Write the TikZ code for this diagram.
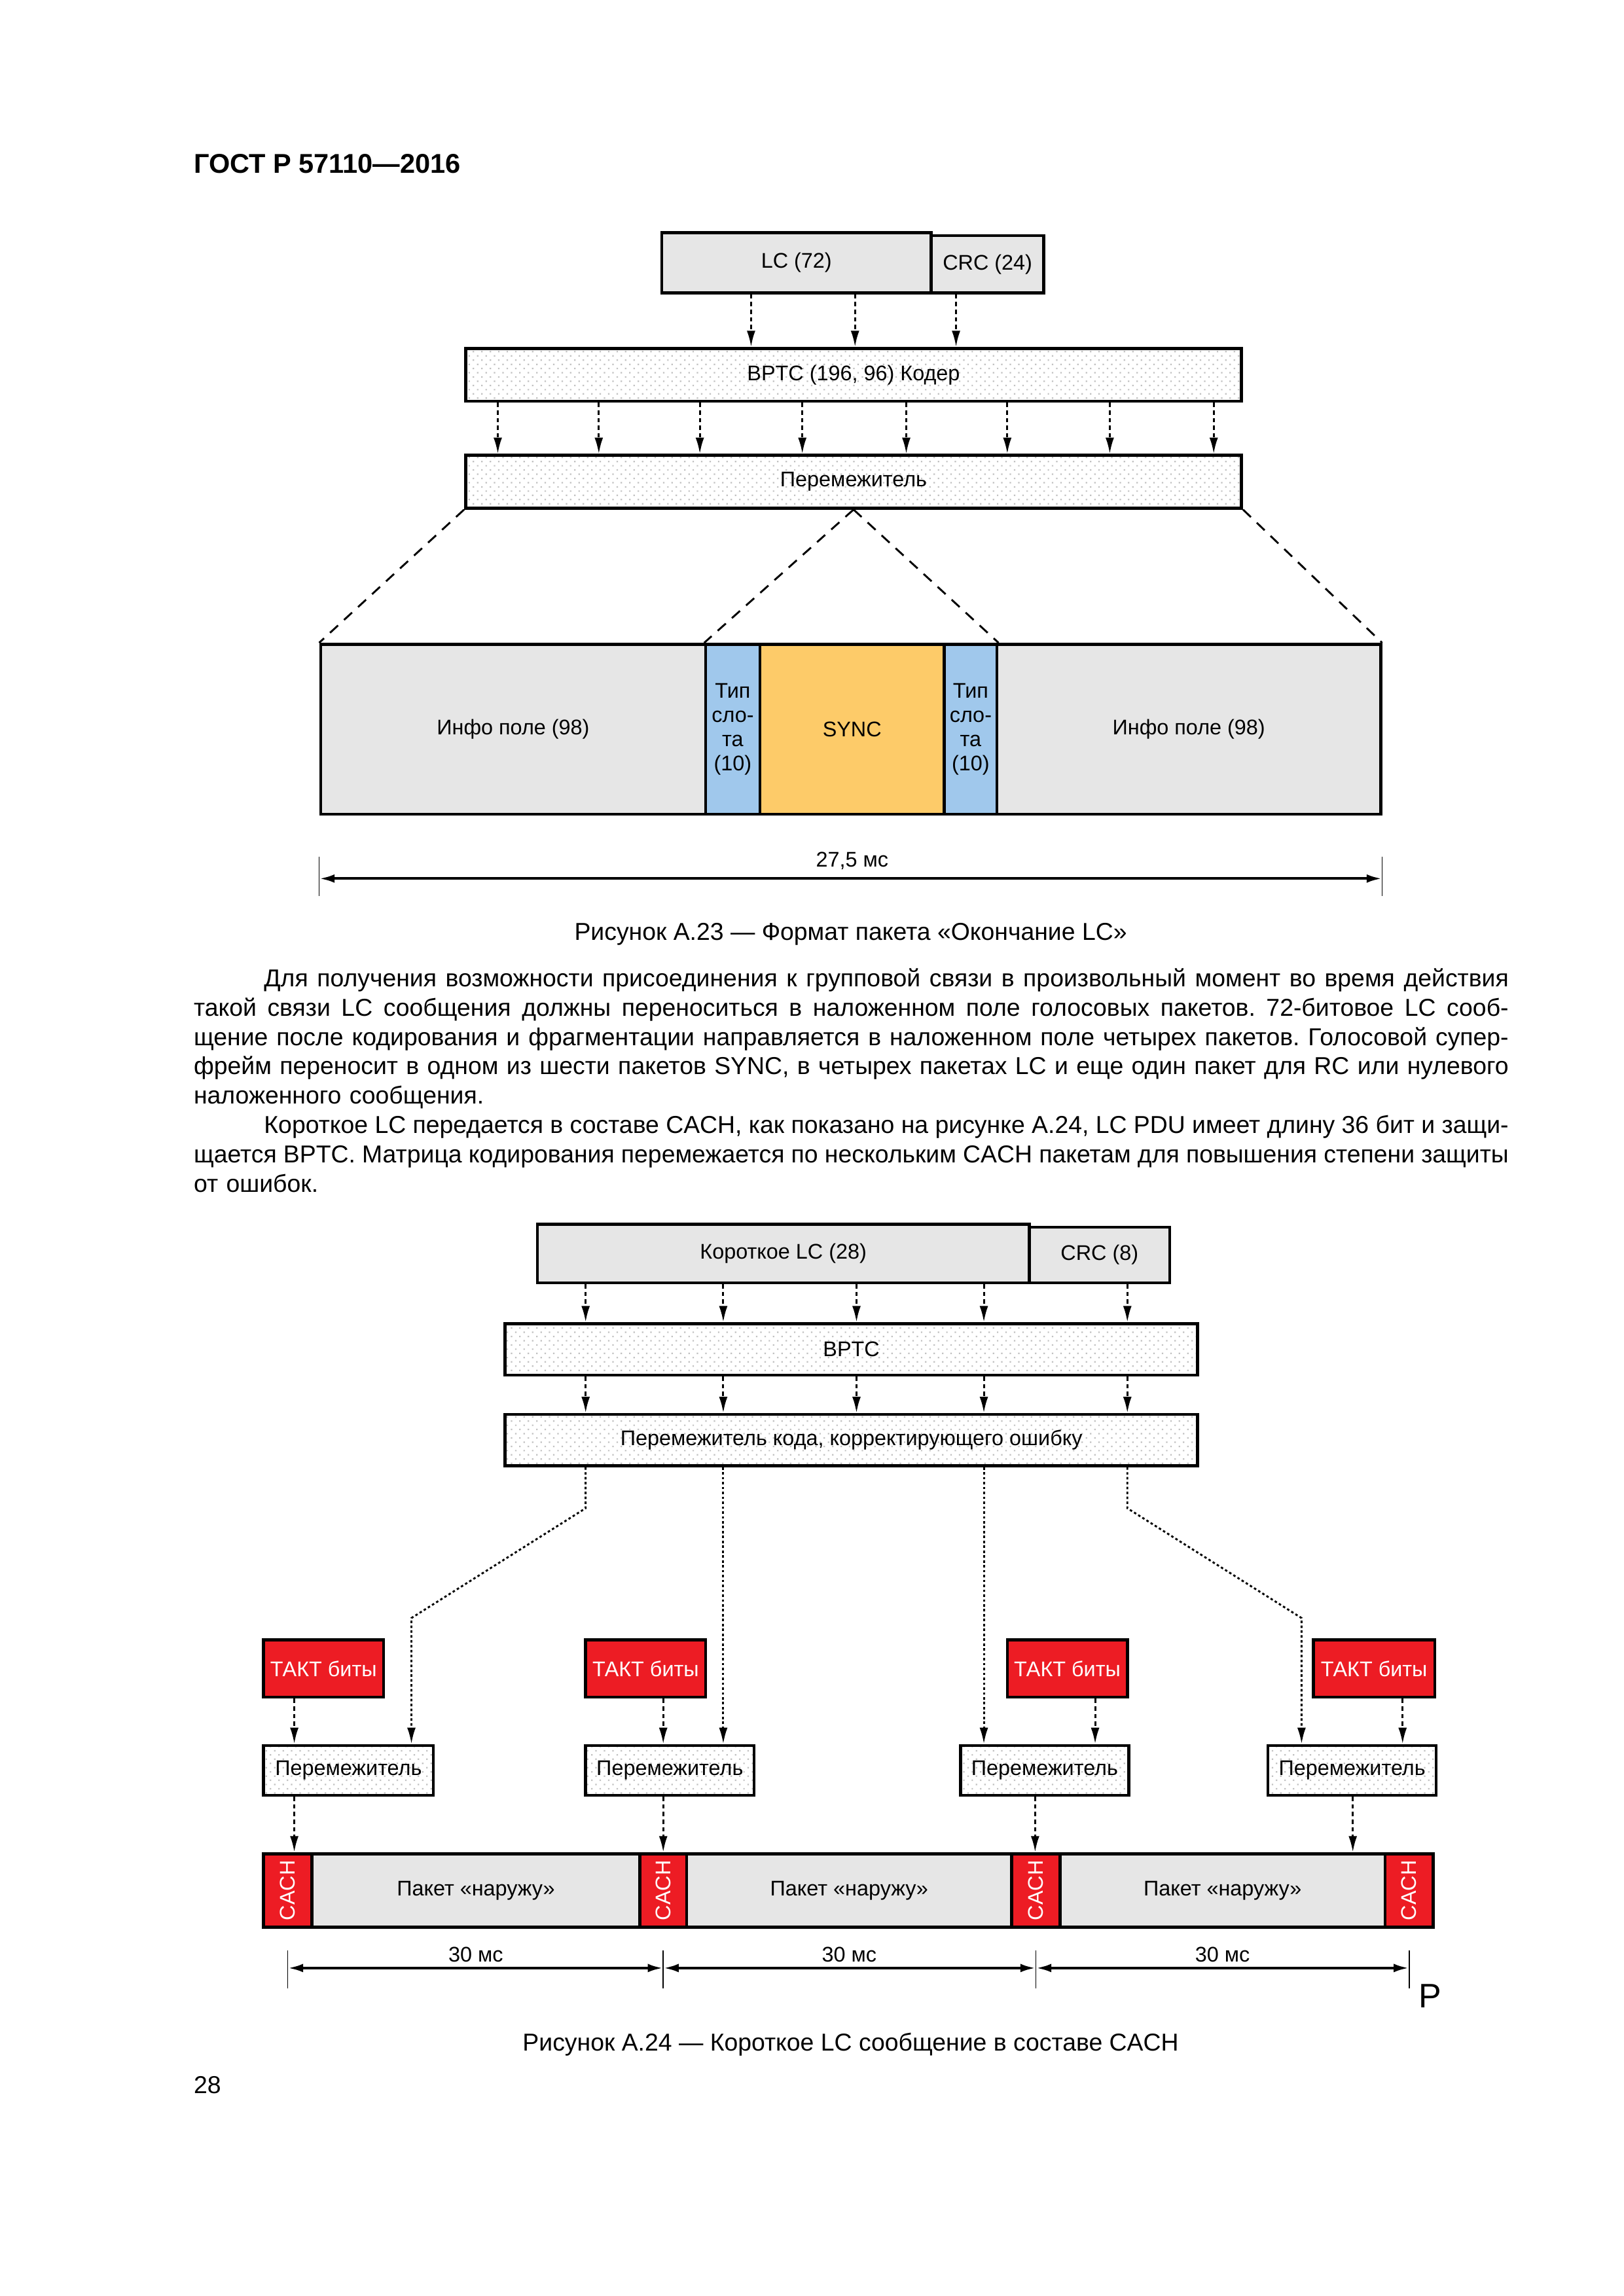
\documentclass[tikz,border=0pt]{standalone}
\usepackage{fontspec}
\setmainfont{Liberation Sans}
\usetikzlibrary{arrows.meta,patterns.meta}
\definecolor{boxgray}{HTML}{E6E6E6}
\definecolor{slotblue}{HTML}{A0C8EC}
\definecolor{syncorange}{HTML}{FDCB69}
\definecolor{taktred}{HTML}{ED1C24}
\newcommand{\lnglue}{\spaceskip=0.278em plus 2em minus 0.09em\xspaceskip=\spaceskip}
\newcommand{\fullln}[1]{\leavevmode\hbox to 170.05mm{\lnglue #1}}
\newcommand{\indentln}[1]{\leavevmode\hspace*{9.09mm}\hbox to 160.96mm{\lnglue #1}}
\begin{document}
\begin{tikzpicture}[x=0.18936mm, y=-0.18941mm,
  sz/.style 2 args={minimum width=#1*0.18936mm, minimum height=#2*0.18941mm},
  lbl/.style={font=\fontsize{7.8}{8.9}\selectfont, inner sep=0pt, align=center},
  field/.style={lbl, draw, line width=1.1pt},
  graybox/.style={field, fill=boxgray},
  dotbox/.style={field, pattern={Dots[distance=2.2pt,angle=45,radius=0.38pt]}, pattern color=black!24},
  slotbox/.style={field, fill=slotblue},
  syncbox/.style={field, fill=syncorange},
  taktbox/.style={field, fill=taktred, text=white},
  cachbox/.style={field, fill=taktred, text=white, rotate=90},
  arr/.style={-{Latex[length=2.1mm,width=1.1mm]}, line width=0.7pt, dash pattern=on 1.6pt off 1.2pt},
  dotarr/.style={arr, dash pattern=on 0.9pt off 0.9pt},
  fan/.style={line width=0.7pt, dash pattern=on 4pt off 3pt},
  tick/.style={line width=0.45pt},
  dim/.style={{Latex[length=2mm,width=1.1mm]}-{Latex[length=2mm,width=1.1mm]}, line width=1pt},
  body/.style={font=\fontsize{9}{10.8}\selectfont, inner sep=0pt}]
\useasboundingbox (0,0) rectangle (1109,1568);

\node[font=\fontsize{10}{12}\selectfont\bfseries, anchor=west, inner sep=0pt] (head) at (132,112) {ГОСТ Р 57110—2016};

% Рисунок А.23
\node[graybox, sz={184}{41}] (lc) at (544,179.5) {LC (72)};
\node[graybox, sz={77}{39}] (crc) at (674.5,180.5) {CRC (24)};
\node[dotbox, sz={530}{36}] (bptc) at (583,256) {BPTC (196, 96) Кодер};
\node[dotbox, sz={530}{36}] (ilv) at (583,329) {Перемежитель};

\draw[arr] (lc.south -| 513,0) -- (bptc.north -| 513,0);
\draw[arr] (lc.south -| 584,0) -- (bptc.north -| 584,0);
\draw[arr] (crc.south -| 653,0) -- (bptc.north -| 653,0);

\draw[arr] (bptc.south -| 340,0) -- (ilv.north -| 340,0);
\draw[arr] (bptc.south -| 409,0) -- (ilv.north -| 409,0);
\draw[arr] (bptc.south -| 478,0) -- (ilv.north -| 478,0);
\draw[arr] (bptc.south -| 548,0) -- (ilv.north -| 548,0);
\draw[arr] (bptc.south -| 619,0) -- (ilv.north -| 619,0);
\draw[arr] (bptc.south -| 688,0) -- (ilv.north -| 688,0);
\draw[arr] (bptc.south -| 758,0) -- (ilv.north -| 758,0);
\draw[arr] (bptc.south -| 829,0) -- (ilv.north -| 829,0);

\node[graybox, sz={263}{116}] (info1) at (350.5,498) {Инфо поле (98)};
\node[slotbox, sz={37}{116}] (slot1) at (500.5,498) {Тип\\сло-\\та\\(10)};
\node[syncbox, sz={126}{116}] (sync) at (582,498) {SYNC};
\node[slotbox, sz={36}{116}] (slot2) at (663,498) {Тип\\сло-\\та\\(10)};
\node[graybox, sz={262}{116}] (info2) at (812,498) {Инфо поле (98)};

\draw[fan] (ilv.south west) -- (info1.north west);
\draw[fan] (ilv.south) -- (slot1.north west);
\draw[fan] (ilv.south) -- (slot2.north east);
\draw[fan] (ilv.south east) -- (info2.north east);

\draw[tick] (info1.south west |- 0,585) -- (info1.south west |- 0,612);
\draw[tick] (info2.south east |- 0,585) -- (info2.south east |- 0,612);
\draw[dim] (info1.south west |- 0,600) -- (info2.south east |- 0,600);
\node[lbl] (t23) at (582,588) {27,5 мс};

\node[body] (cap23) at (581,638) {Рисунок А.23 — Формат пакета «Окончание LC»};

% текст
\node[body, anchor=north west, text width=170.05mm, align=left] (para) at (132,661) {%
\indentln{Для получения возможности присоединения к групповой связи в произвольный момент во время действия}\\
\fullln{такой связи LC сообщения должны переноситься в наложенном поле голосовых пакетов. 72-битовое LC сооб-}\\
\fullln{щение после кодирования и фрагментации направляется в наложенном поле четырех пакетов. Голосовой супер-}\\
\fullln{фрейм переносит в одном из шести пакетов SYNC, в четырех пакетах LC и еще один пакет для RC или нулевого}\\
наложенного сообщения.\\
\indentln{Короткое LC передается в составе CACH, как показано на рисунке А.24, LC PDU имеет длину 36 бит и защи-}\\
\fullln{щается BPTC. Матрица кодирования перемежается по нескольким CACH пакетам для повышения степени защиты}\\
от ошибок.};

% Рисунок А.24
\node[graybox, sz={336}{40}] (slc) at (535,856) {Короткое LC (28)};
\node[graybox, sz={96}{38}] (scrc) at (751,857) {CRC (8)};
\node[dotbox, sz={473}{35}] (sbptc) at (581.5,921.5) {BPTC};
\node[dotbox, sz={473}{35}] (silv) at (581.5,983.5) {Перемежитель кода, корректирующего ошибку};

\draw[arr] (slc.south -| 400,0) -- (sbptc.north -| 400,0);
\draw[arr] (slc.south -| 494,0) -- (sbptc.north -| 494,0);
\draw[arr] (slc.south -| 585,0) -- (sbptc.north -| 585,0);
\draw[arr] (slc.south -| 672,0) -- (sbptc.north -| 672,0);
\draw[arr] (scrc.south -| 770,0) -- (sbptc.north -| 770,0);

\draw[arr] (sbptc.south -| 400,0) -- (silv.north -| 400,0);
\draw[arr] (sbptc.south -| 494,0) -- (silv.north -| 494,0);
\draw[arr] (sbptc.south -| 585,0) -- (silv.north -| 585,0);
\draw[arr] (sbptc.south -| 672,0) -- (silv.north -| 672,0);
\draw[arr] (sbptc.south -| 770,0) -- (silv.north -| 770,0);

\node[taktbox, sz={82}{39}] (takt1) at (221,1139.5) {ТАКТ биты};
\node[taktbox, sz={82}{39}] (takt2) at (441,1139.5) {ТАКТ биты};
\node[taktbox, sz={82}{39}] (takt3) at (729,1139.5) {ТАКТ биты};
\node[taktbox, sz={83}{39}] (takt4) at (938.5,1139.5) {ТАКТ биты};

\node[dotbox, sz={116}{34}] (pm1) at (238,1209) {Перемежитель};
\node[dotbox, sz={115}{34}] (pm2) at (457.5,1209) {Перемежитель};
\node[dotbox, sz={115}{34}] (pm3) at (713.5,1209) {Перемежитель};
\node[dotbox, sz={115}{34}] (pm4) at (923.5,1209) {Перемежитель};

\draw[dotarr] (silv.south -| 400,0) -- (400,1030) -- (281,1105) -- (pm1.north -| 281,0);
\draw[dotarr] (silv.south -| 494,0) -- (pm2.north -| 494,0);
\draw[dotarr] (silv.south -| 672,0) -- (pm3.north -| 672,0);
\draw[dotarr] (silv.south -| 770,0) -- (770,1030) -- (889,1105) -- (pm4.north -| 889,0);

\draw[arr] (takt1.south -| 201,0) -- (pm1.north -| 201,0);
\draw[arr] (takt2.south -| 453,0) -- (pm2.north -| 453,0);
\draw[arr] (takt3.south -| 748,0) -- (pm3.north -| 748,0);
\draw[arr] (takt4.south -| 958,0) -- (pm4.north -| 958,0);

\node[cachbox, sz={50}{33}] (cach1) at (196.5,1291) {CACH};
\node[graybox, sz={224}{50}] (pkt1) at (325,1291) {Пакет «наружу»};
\node[cachbox, sz={50}{32}] (cach2) at (453,1291) {CACH};
\node[graybox, sz={222}{50}] (pkt2) at (580,1291) {Пакет «наружу»};
\node[cachbox, sz={50}{33}] (cach3) at (707.5,1291) {CACH};
\node[graybox, sz={222}{50}] (pkt3) at (835,1291) {Пакет «наружу»};
\node[cachbox, sz={50}{33}] (cach4) at (962.5,1291) {CACH};

\draw[arr] (pm1.south -| 201,0) -- (pkt1.north -| 201,0);
\draw[arr] (pm2.south -| 453,0) -- (pkt1.north -| 453,0);
\draw[arr] (pm3.south -| 707,0) -- (pkt2.north -| 707,0);
\draw[arr] (pm4.south -| 924,0) -- (pkt3.north -| 924,0);

\draw[tick] (cach1.center |- 0,1332) -- (cach1.center |- 0,1358);
\draw[tick] (cach2.center |- 0,1332) -- (cach2.center |- 0,1358);
\draw[tick] (cach3.center |- 0,1332) -- (cach3.center |- 0,1358);
\draw[tick] (cach4.center |- 0,1332) -- (cach4.center |- 0,1358);
\draw[dim] (cach1.center |- 0,1344) -- (cach2.center |- 0,1344);
\draw[dim] (cach2.center |- 0,1344) -- (cach3.center |- 0,1344);
\draw[dim] (cach3.center |- 0,1344) -- (cach4.center |- 0,1344);
\node[lbl] (t1) at (325,1335) {30 мс};
\node[lbl] (t2) at (580,1335) {30 мс};
\node[lbl] (t3) at (835,1335) {30 мс};
\node[font=\fontsize{12.5}{14}\selectfont, inner sep=0pt] (pmark) at (977,1363) {P};

\node[body] (cap24) at (581,1396) {Рисунок А.24 — Короткое LC сообщение в составе CACH};
\node[body, anchor=west] (pageno) at (132,1424) {28};
\end{tikzpicture}
\end{document}
